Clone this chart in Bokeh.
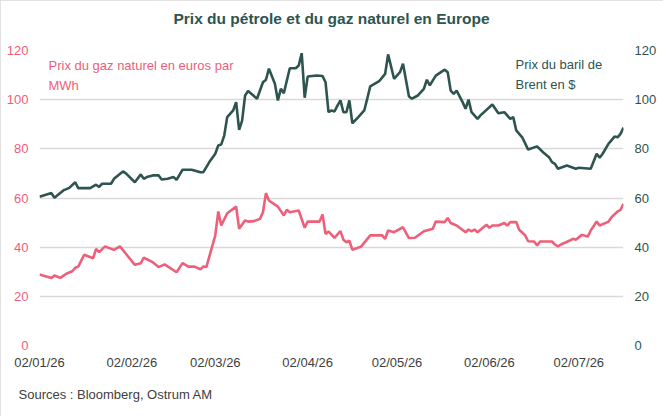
import pandas as pd
from bokeh.plotting import figure
from bokeh.models import Range1d, LinearAxis, FixedTicker, DatetimeTickFormatter, Label, ColumnDataSource, Title
from bokeh.embed import file_html
from bokeh.resources import INLINE

# ---------------- data ----------------
TITLE = "Prix du pétrole et du gaz naturel en Europe"
GAS_LABEL = ["Prix du gaz naturel en euros par", "MWh"]
BRENT_LABEL = ["Prix du baril de", "Brent en $"]
SOURCE = "Sources : Bloomberg, Ostrum AM"

x_ticks = ["2026-01-02", "2026-02-02", "2026-03-02", "2026-04-02",
           "2026-05-02", "2026-06-02", "2026-07-02"]
y_ticks = [0, 20, 40, 60, 80, 100, 120]
x_start = "2026-01-02"
x_end = "2026-07-17"

brent_dates = [
    "2026-01-02", "2026-01-06", "2026-01-07", "2026-01-10", "2026-01-12", "2026-01-14", "2026-01-15",
    "2026-01-19", "2026-01-21", "2026-01-22", "2026-01-23", "2026-01-26", "2026-01-27", "2026-01-30",
    "2026-01-31",
    "2026-02-03", "2026-02-05", "2026-02-06", "2026-02-07", "2026-02-09", "2026-02-11", "2026-02-12",
    "2026-02-14", "2026-02-16", "2026-02-17", "2026-02-19", "2026-02-22", "2026-02-23", "2026-02-25",
    "2026-02-26", "2026-02-28",
    "2026-03-02", "2026-03-03", "2026-03-04", "2026-03-05", "2026-03-06", "2026-03-08", "2026-03-09",
    "2026-03-10", "2026-03-11", "2026-03-12", "2026-03-13", "2026-03-16", "2026-03-18", "2026-03-19",
    "2026-03-20", "2026-03-22", "2026-03-23", "2026-03-24", "2026-03-25", "2026-03-27", "2026-03-29",
    "2026-03-30", "2026-03-31",
    "2026-04-01", "2026-04-02", "2026-04-05", "2026-04-07", "2026-04-08", "2026-04-09", "2026-04-10",
    "2026-04-11", "2026-04-12", "2026-04-13", "2026-04-14", "2026-04-15", "2026-04-16", "2026-04-17",
    "2026-04-19", "2026-04-21", "2026-04-22", "2026-04-23", "2026-04-24", "2026-04-26", "2026-04-28",
    "2026-04-29",
    "2026-05-01", "2026-05-03", "2026-05-04", "2026-05-06", "2026-05-07", "2026-05-09", "2026-05-11",
    "2026-05-12", "2026-05-13", "2026-05-15", "2026-05-18", "2026-05-19", "2026-05-20", "2026-05-21",
    "2026-05-22", "2026-05-24", "2026-05-25", "2026-05-26", "2026-05-27", "2026-05-29", "2026-05-30",
    "2026-06-03", "2026-06-05", "2026-06-07", "2026-06-09", "2026-06-10", "2026-06-11", "2026-06-13",
    "2026-06-15", "2026-06-18", "2026-06-20", "2026-06-22", "2026-06-23", "2026-06-24", "2026-06-25",
    "2026-06-28",
    "2026-07-01", "2026-07-02", "2026-07-06", "2026-07-08", "2026-07-09", "2026-07-10", "2026-07-12",
    "2026-07-14", "2026-07-15", "2026-07-16", "2026-07-17",
]
brent_values = [
    60.5, 62.0, 60.1, 63.1, 64.1, 66.4, 64.0, 64.0, 65.4, 64.5, 65.8, 65.8, 67.8, 70.8, 70.0,
    66.4, 69.6, 67.8, 68.5, 69.2, 69.2, 67.5, 67.8, 68.5, 67.4, 71.5, 71.5, 71.2, 70.5, 70.5, 74.6,
    78.0, 81.4, 81.8, 85.4, 92.9, 95.6, 99.0, 87.7, 91.5, 101.7, 103.5, 100.4, 107.1, 108.1, 112.6,
    106.5, 99.7, 104.4, 102.6, 112.8, 112.8, 113.9, 118.9,
    100.8, 109.4, 109.8, 109.6, 107.1, 94.9, 95.6, 95.2, 97.6, 99.7, 94.9, 94.9, 99.7, 90.4, 92.9,
    95.6, 100.4, 105.4, 106.1, 107.5, 110.5, 118.4,
    108.5, 111.2, 114.6, 101.3, 100.4, 101.7, 104.4, 108.1, 105.8, 109.8, 112.2, 111.2, 103.7, 102.4,
    103.7, 99.0, 96.3, 100.0, 94.9, 92.2, 93.6,
    98.0, 94.5, 94.9, 92.2, 92.9, 87.5, 84.7, 79.7, 81.0, 78.6, 76.6, 74.6, 73.9, 71.9, 73.2,
    71.9, 72.3, 71.9, 78.0, 76.4, 78.0, 82.1, 85.0, 84.7, 86.1, 88.6,
]

gas_dates = [
    "2026-01-02", "2026-01-06", "2026-01-07", "2026-01-09", "2026-01-11", "2026-01-13", "2026-01-14",
    "2026-01-15", "2026-01-17", "2026-01-20", "2026-01-21", "2026-01-22", "2026-01-24", "2026-01-27",
    "2026-01-29", "2026-01-31",
    "2026-02-03", "2026-02-05", "2026-02-06", "2026-02-09", "2026-02-11", "2026-02-13", "2026-02-17",
    "2026-02-19", "2026-02-21", "2026-02-23", "2026-02-25", "2026-02-26", "2026-02-27",
    "2026-03-02", "2026-03-03", "2026-03-04", "2026-03-06", "2026-03-09", "2026-03-10", "2026-03-12",
    "2026-03-13", "2026-03-15", "2026-03-17", "2026-03-18", "2026-03-19", "2026-03-20", "2026-03-23",
    "2026-03-25", "2026-03-26", "2026-03-27", "2026-03-30",
    "2026-04-01", "2026-04-02", "2026-04-06", "2026-04-07", "2026-04-08", "2026-04-09", "2026-04-11",
    "2026-04-13", "2026-04-14", "2026-04-15", "2026-04-16", "2026-04-17", "2026-04-20", "2026-04-23",
    "2026-04-27", "2026-04-28", "2026-04-29",
    "2026-05-01", "2026-05-04", "2026-05-06", "2026-05-08", "2026-05-11", "2026-05-14", "2026-05-15",
    "2026-05-18", "2026-05-19", "2026-05-20", "2026-05-22", "2026-05-25", "2026-05-26", "2026-05-27",
    "2026-05-28", "2026-05-29",
    "2026-06-01", "2026-06-02", "2026-06-03", "2026-06-05", "2026-06-07", "2026-06-08", "2026-06-09",
    "2026-06-11", "2026-06-12", "2026-06-14", "2026-06-15", "2026-06-17", "2026-06-18", "2026-06-19",
    "2026-06-23", "2026-06-24", "2026-06-25", "2026-06-26", "2026-06-29", "2026-06-30",
    "2026-07-01", "2026-07-03", "2026-07-05", "2026-07-06", "2026-07-08", "2026-07-09", "2026-07-12",
    "2026-07-13", "2026-07-15", "2026-07-16", "2026-07-17",
]
gas_values = [
    28.9, 27.5, 28.5, 27.5, 29.2, 30.2, 31.6, 32.1, 36.9, 35.5, 39.3, 38.0, 40.3, 38.9, 40.3, 37.3,
    32.8, 33.5, 35.7, 33.9, 31.9, 33.0, 29.8, 33.5, 32.1, 32.1, 31.0, 32.1, 31.9,
    44.8, 54.5, 48.8, 53.8, 56.5, 47.5, 50.9, 50.4, 50.6, 51.5, 54.2, 62.0, 59.0, 56.5, 52.9, 55.2,
    54.2, 54.9,
    47.9, 50.4, 50.4, 53.3, 45.4, 46.4, 43.8, 46.5, 43.0, 42.0, 42.7, 38.9, 40.3, 44.8, 44.8, 43.4,
    46.8,
    46.1, 48.1, 43.7, 43.8, 46.5, 47.5, 50.4, 50.2, 51.9, 49.8, 48.8, 46.1, 47.2, 46.4, 47.2, 46.1,
    49.1, 47.9, 48.8, 48.8, 49.8, 48.8, 50.2, 50.2, 47.1, 44.8, 42.4, 42.3, 40.7, 42.3, 42.3, 41.1,
    40.3, 41.1, 42.7, 43.4,
    43.0, 45.0, 44.3, 46.8, 50.4, 48.8, 50.4, 52.2, 54.5, 55.2, 57.6,
]

# ---------------- styling ----------------
FONT = "Liberation Sans"
GREEN = "#2E544F"
PINK = "#EE607A"
GREY_TXT = "#404040"
GRID = "#D9D9D9"

brent_src = ColumnDataSource(dict(date=pd.to_datetime(brent_dates), value=brent_values))
gas_src = ColumnDataSource(dict(date=pd.to_datetime(gas_dates), value=gas_values))

p = figure(width=663, height=416, x_axis_type="datetime",
           x_range=Range1d(pd.Timestamp(x_start), pd.Timestamp(x_end)),
           y_range=Range1d(0, 120),
           output_backend="svg", toolbar_location=None,
           min_border_left=39, min_border_right=40, min_border_top=50, min_border_bottom=71)
p.extra_y_ranges = {"brent": Range1d(0, 120)}
p.outline_line_color = None
p.background_fill_color = "white"
p.border_fill_color = "white"
p.styles = {"outline": "1px solid #D9D9D9", "outline-offset": "-1px"}

p.title.text = TITLE
p.title.align = "center"
p.title.text_font = FONT
p.title.text_font_style = "bold"
p.title.text_font_size = "15.5px"
p.title.text_color = GREEN
p.title.standoff = 2

# empty spacer between title and frame
p.add_layout(Title(text=" ", text_font_size="13px", standoff=6), "above")

src_title = Title(text=SOURCE, align="left", offset=-21, text_font=FONT,
                  text_font_style="normal", text_font_size="13px", text_color=GREY_TXT,
                  standoff=25)
p.add_layout(src_title, "below")

p.xgrid.visible = False
p.ygrid.grid_line_color = GRID
p.ygrid.grid_line_width = 1.3

right = LinearAxis(y_range_name="brent")
p.add_layout(right, "right")

tick_ms = [pd.Timestamp(d).value // 10**6 for d in x_ticks]
p.xaxis.ticker = FixedTicker(ticks=tick_ms)
fmt = "%d/%m/%y"
p.xaxis.formatter = DatetimeTickFormatter(days=fmt, months=fmt, years=fmt, hours=fmt,
                                          minutes=fmt, seconds=fmt, milliseconds=fmt,
                                          microseconds=fmt, hourmin=fmt, minsec=fmt)

for ax in p.yaxis:
    ax.ticker = FixedTicker(ticks=y_ticks)

for ax in p.axis:
    ax.axis_line_color = None
    ax.major_tick_line_color = None
    ax.minor_tick_line_color = None
    ax.major_label_text_font = FONT
    ax.major_label_text_font_size = "13px"

p.xaxis.major_label_standoff = 3
p.xaxis.major_label_text_color = GREY_TXT
p.yaxis[0].major_label_text_color = PINK
p.yaxis[0].major_label_standoff = 5
right.major_label_text_color = GREEN
right.major_label_standoff = 5

p.line("date", "value", source=gas_src, line_color=PINK, line_width=2.6)
p.line("date", "value", source=brent_src, line_color=GREEN, line_width=2.6, y_range_name="brent")

# legend texts (screen units relative to the plot frame, y upwards from frame bottom)
p.add_layout(Label(x=9, y=280, x_units="screen", y_units="screen", text=GAS_LABEL[0],
                   text_font=FONT, text_font_size="13px", text_color=PINK,
                   text_baseline="alphabetic"))
p.add_layout(Label(x=9, y=260, x_units="screen", y_units="screen", text=GAS_LABEL[1],
                   text_font=FONT, text_font_size="13px", text_color=PINK,
                   text_baseline="alphabetic"))
p.add_layout(Label(x=476, y=281, x_units="screen", y_units="screen", text=BRENT_LABEL[0],
                   text_font=FONT, text_font_size="13px", text_color=GREEN,
                   text_baseline="alphabetic"))
p.add_layout(Label(x=476, y=261, x_units="screen", y_units="screen", text=BRENT_LABEL[1],
                   text_font=FONT, text_font_size="13px", text_color=GREEN,
                   text_baseline="alphabetic"))

open("out.html", "w").write(file_html(p, INLINE))
